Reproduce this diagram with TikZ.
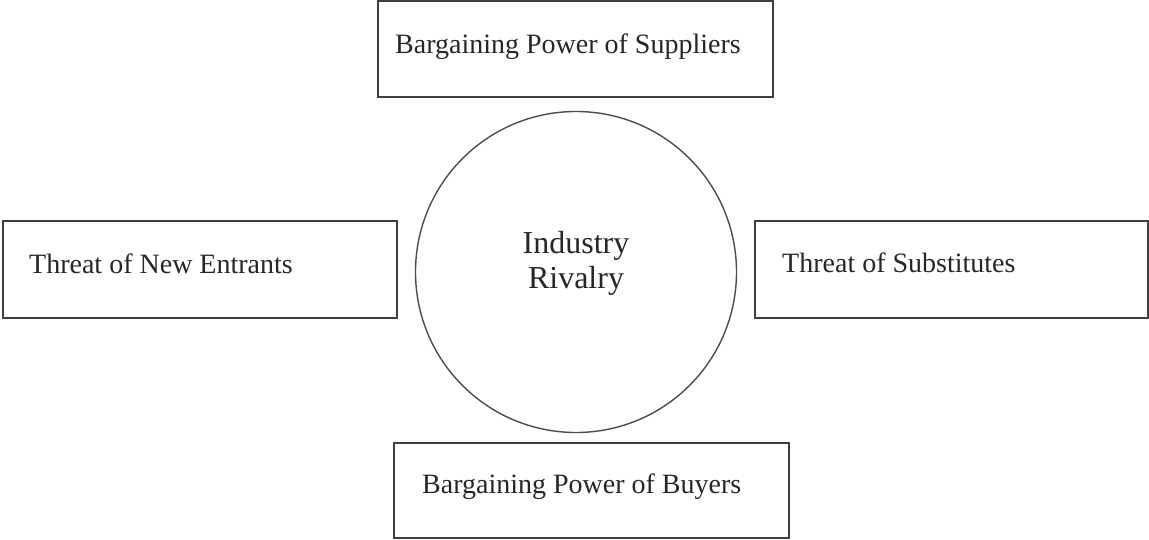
\documentclass[tikz,border=0pt]{standalone}
\usepackage{fontspec}
\setmainfont{Liberation Serif}
\usepackage{xcolor}
\usepackage{tikz}

\tikzset{
  forcebox/.style={draw=black!75, line width=1.6pt, rectangle, inner sep=0pt},
  forcetext/.style={anchor=base west, inner sep=0pt, text=black!85, font=\fontsize{28}{32}\selectfont},
}

\begin{document}
\begin{tikzpicture}[x=1pt, y=-1pt]
        \useasboundingbox (0,0) rectangle (1149,539);
        \node[draw=black!70, line width=1.4pt, circle, minimum size=321pt, inner sep=0pt] (rivalry) at (576,272) {};
        \node[align=center, inner sep=0pt, text=black!85, font=\fontsize{32}{35}\selectfont] (rivalrytext) at (576,263) {Industry\\Rivalry};
        \node[forcebox, minimum width=395pt, minimum height=96pt] (suppliers) at (575.5,49) {};
        \node[forcebox, minimum width=394pt, minimum height=97pt] (entrants) at (200,269.5) {};
        \node[forcebox, minimum width=393pt, minimum height=97pt] (substitutes) at (951.5,269.5) {};
        \node[forcebox, minimum width=395pt, minimum height=95pt] (buyers) at (591.5,490.5) {};
        \node[forcetext] (supplierstext) at (395,53) {Bargaining Power of Suppliers};
        \node[forcetext] (entrantstext) at (29,273) {Threat of New Entrants};
        \node[forcetext] (substitutestext) at (782,272) {Threat of Substitutes};
        \node[forcetext] (buyerstext) at (422,493) {Bargaining Power of Buyers};
    \end{tikzpicture}
\end{document}
